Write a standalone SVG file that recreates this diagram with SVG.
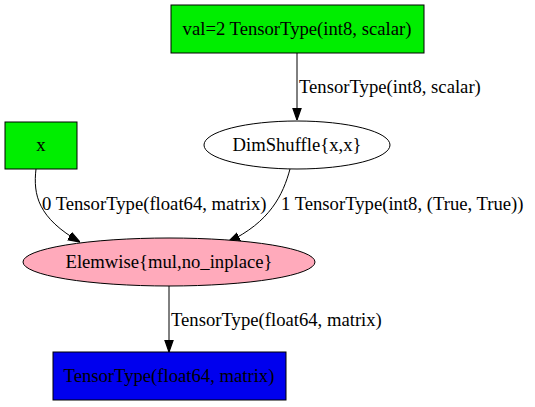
<svg xmlns="http://www.w3.org/2000/svg" width="535" height="407" viewBox="0 0 535 407">
<style>
.n{stroke:#000;stroke-width:1}
.e{fill:none;stroke:#000;stroke-width:1;marker-end:url(#ah)}
.c{text-anchor:middle}
</style>
<defs>
<marker id="ah" markerUnits="userSpaceOnUse" markerWidth="12" markerHeight="10" refX="10" refY="3.5" orient="auto" viewBox="0 0 10 7">
<path d="M0,0 L10,3.5 L0,7 Z" fill="#000" stroke="#000"/>
</marker>
</defs>
<rect width="535" height="407" fill="#fff"/>
<g font-family="'Liberation Serif', 'Times New Roman', serif" font-size="18.67" fill="#000">
<g id="edges">
<path class="e" d="M297,53 L297,120"/>
<text x="299" y="93">TensorType(int8, scalar)</text>
<path class="e" d="M36,169 C33,195 38,218 80,242"/>
<text x="42" y="210">0 TensorType(float64, matrix)</text>
<path class="e" d="M290,169 C283,195 270,222 228,242"/>
<text x="281" y="210">1 TensorType(int8, (True, True))</text>
<path class="e" d="M169,286 L169,352"/>
<text x="171" y="326">TensorType(float64, matrix)</text>
</g>
<g id="const">
<rect class="n" x="171" y="5" width="253" height="48" fill="#00ee00"/>
<text class="c" x="297" y="35">val=2 TensorType(int8, scalar)</text>
</g>
<g id="x">
<rect class="n" x="5" y="122" width="72" height="47" fill="#00ee00"/>
<text class="c" x="41" y="151">x</text>
</g>
<g id="dimshuffle">
<ellipse class="n" cx="297" cy="145" rx="93" ry="24" fill="#fff"/>
<text class="c" x="297" y="151">DimShuffle{x,x}</text>
</g>
<g id="elemwise">
<ellipse class="n" cx="169" cy="262" rx="146" ry="24" fill="#ffaabb"/>
<text class="c" x="169" y="268">Elemwise{mul,no_inplace}</text>
</g>
<g id="output">
<rect class="n" x="53" y="352" width="233" height="48" fill="#0000ee"/>
<text class="c" x="169" y="382">TensorType(float64, matrix)</text>
</g>
</g>
</svg>
